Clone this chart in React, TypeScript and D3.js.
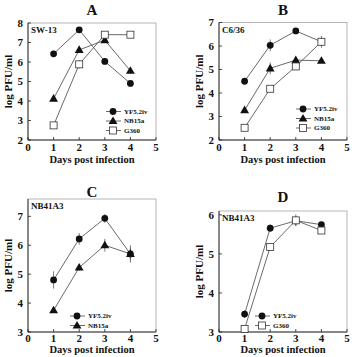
import React from "react";
import { scaleLinear, line, symbol, symbolTriangle } from "d3";

// days post infection
const days = [1, 2, 3, 4];

// panel A: SW-13
const swYF = [6.42, 7.65, 6.03, 4.9];
const swYFErr = [0.08, 0.08, 0.15, 0.08];
const swNB = [4.12, 6.62, 7.12, 5.55];
const swNBErr = [0.12, 0.08, 0.12, 0.15];
const swG = [2.75, 5.88, 7.4, 7.4];
const swGErr = [0.08, 0.22, 0.1, 0.05];

// panel B: C6/36
const c6YF = [4.5, 6.03, 6.64, 6.18];
const c6YFErr = [0.1, 0.25, 0.12, 0.25];
const c6NB = [3.27, 5.05, 5.4, 5.37];
const c6NBErr = [0.08, 0.25, 0.15, 0.05];
const c6G = [2.52, 4.18, 5.13, 6.18];
const c6GErr = [0.1, 0.1, 0.15, 0.1];

// panel C: NB41A3
const nbYF = [4.8, 6.22, 6.93, 5.7];
const nbYFErr = [0.3, 0.2, 0.15, 0.3];
const nbNB = [3.75, 5.23, 6.0, 5.7];
const nbNBErr = [0.05, 0.12, 0.22, 0.2];

// panel D: NB41A3
const nb2YF = [3.46, 5.66, 5.85, 5.75];
const nb2YFErr = [0.1, 0.1, 0.12, 0.05];
const nb2G = [3.08, 5.18, 5.86, 5.6];
const nb2GErr = [0.05, 0.05, 0.15, 0.05];

const xTicks = [0, 1, 2, 3, 4, 5];
const ticksA = [2, 3, 4, 5, 6, 7, 8];
const ticksB = [2, 3, 4, 5, 6, 7];
const ticksC = [3, 4, 5, 6, 7];
const ticksD = [3, 4, 5, 6];

type Series = { name: string; mark: "circle" | "triangle" | "square"; values: number[]; err: number[] };

type PanelProps = {
  letter: string;
  cell: string;
  left: number;
  right: number;
  top: number;
  bottom: number;
  yDomain: [number, number];
  yTicks: number[];
  series: Series[];
  legendX: number;
  legendY: number;
  titleY: number;
  tickGap: number;
  axisTitleGap: number;
};

const FONT = "'Liberation Serif', 'Times New Roman', serif";
const tri = symbol().type(symbolTriangle).size(34);

function Marker({ kind, x, y }: { kind: string; x: number; y: number }) {
  if (kind === "circle") return <circle cx={x} cy={y} r={3.4} fill="#111" />;
  if (kind === "triangle") return <path d={tri() || ""} transform={`translate(${x},${y + 0.5})`} fill="#111" />;
  return <rect x={x - 3.5} y={y - 3.5} width={7} height={7} fill="#fff" stroke="#333" strokeWidth={0.8} />;
}

function Panel(p: PanelProps) {
  const x = scaleLinear().domain([0, 5]).range([p.left, p.right]);
  const y = scaleLinear()
    .domain(p.yDomain)
    .range([p.bottom, p.top]);
  const top = p.top;
  const path = line<number>()
    .x((_, i) => x(days[i]))
    .y((v) => y(v));
  const cx = (p.left + p.right) / 2;

  return (
    <g fontFamily={FONT} fontWeight="bold" fill="#111">
      <text x={cx} y={p.titleY} textAnchor="middle" fontSize={15}>
        {p.letter}
      </text>
      <rect x={p.left} y={top} width={p.right - p.left} height={p.bottom - top} fill="none" stroke="#999" strokeWidth={0.7} />
      <line x1={p.left} x2={p.left} y1={top} y2={p.bottom} stroke="#222" strokeWidth={0.9} />
      <line x1={p.left} x2={p.right} y1={p.bottom} y2={p.bottom} stroke="#222" strokeWidth={0.9} />
      {p.yTicks.map((t) => (
        <g key={t}>
          <line x1={p.left} x2={p.left + 3} y1={y(t)} y2={y(t)} stroke="#222" strokeWidth={0.8} />
          <text x={p.left - 5} y={y(t)} dy="0.35em" textAnchor="end" fontSize={11}>
            {t}
          </text>
        </g>
      ))}
      {xTicks.map((t) => (
        <g key={t}>
          <line x1={x(t)} x2={x(t)} y1={p.bottom} y2={p.bottom - 3} stroke="#222" strokeWidth={0.8} />
          <text x={x(t)} y={p.bottom + p.tickGap} textAnchor="middle" fontSize={11}>
            {t}
          </text>
        </g>
      ))}
      <text x={cx} y={p.bottom + p.axisTitleGap} textAnchor="middle" fontSize={10.5}>
        Days post infection
      </text>
      <text
        transform={`translate(${p.left - 16},${(top + p.bottom) / 2}) rotate(-90)`}
        textAnchor="middle"
        fontSize={11}
      >
        log PFU/ml
      </text>
      <text x={p.left + 3} y={top + 10} fontSize={9}>
        {p.cell}
      </text>
      {p.series.map((s) => (
        <g key={s.name}>
          <path d={path(s.values) || ""} fill="none" stroke="#444" strokeWidth={0.8} />
          {s.values.map((v, i) => (
            <line
              key={i}
              x1={x(days[i])}
              x2={x(days[i])}
              y1={y(v - s.err[i])}
              y2={y(v + s.err[i])}
              stroke="#555"
              strokeWidth={0.8}
            />
          ))}
        </g>
      ))}
      {p.series.map((s) => (
        <g key={s.name + "m"}>
          {s.values.map((v, i) => (
            <Marker key={i} kind={s.mark} x={x(days[i])} y={y(v)} />
          ))}
        </g>
      ))}
      {p.series.map((s, i) => {
        const ly = p.legendY + i * 9.5;
        return (
          <g key={s.name + "l"}>
            <line x1={p.legendX - 7} x2={p.legendX + 8} y1={ly} y2={ly} stroke="#444" strokeWidth={0.8} />
            <Marker kind={s.mark} x={p.legendX} y={ly} />
            <text x={p.legendX + 11} y={ly} dy="0.35em" fontSize={7}>
              {s.name}
            </text>
          </g>
        );
      })}
    </g>
  );
}

export default function App() {
  return (
    <svg
      width={354}
      height={357}
      style={{ position: "absolute", left: 0, top: 0, background: "#fff" }}
    >
      <Panel
        letter="A"
        cell="SW-13"
        left={28}
        right={156}
        top={23}
        bottom={140}
        yDomain={[2, 8]}
        yTicks={ticksA}
        titleY={15}
        tickGap={11}
        axisTitleGap={23}
        legendX={113}
        legendY={111.5}
        series={[
          { name: "YF5.2iv", mark: "circle", values: swYF, err: swYFErr },
          { name: "NB15a", mark: "triangle", values: swNB, err: swNBErr },
          { name: "G360", mark: "square", values: swG, err: swGErr },
        ]}
      />
      <Panel
        letter="B"
        cell="C6/36"
        left={219}
        right={347}
        top={22.5}
        bottom={140}
        yDomain={[2, 7]}
        yTicks={ticksB}
        titleY={15}
        tickGap={11}
        axisTitleGap={23}
        legendX={303}
        legendY={109}
        series={[
          { name: "YF5.2iv", mark: "circle", values: c6YF, err: c6YFErr },
          { name: "NB15a", mark: "triangle", values: c6NB, err: c6NBErr },
          { name: "G360", mark: "square", values: c6G, err: c6GErr },
        ]}
      />
      <Panel
        letter="C"
        cell="NB41A3"
        left={28}
        right={156}
        top={199}
        bottom={332}
        yDomain={[3, 7.6]}
        yTicks={ticksC}
        titleY={197}
        tickGap={10}
        axisTitleGap={20.5}
        legendX={77}
        legendY={316}
        series={[
          { name: "YF5.2iv", mark: "circle", values: nbYF, err: nbYFErr },
          { name: "NB15a", mark: "triangle", values: nbNB, err: nbNBErr },
        ]}
      />
      <Panel
        letter="D"
        cell="NB41A3"
        left={219}
        right={347}
        top={211}
        bottom={332}
        yDomain={[3, 6.1]}
        yTicks={ticksD}
        titleY={202}
        tickGap={10}
        axisTitleGap={20.5}
        legendX={262}
        legendY={316}
        series={[
          { name: "YF5.2iv", mark: "circle", values: nb2YF, err: nb2YFErr },
          { name: "G360", mark: "square", values: nb2G, err: nb2GErr },
        ]}
      />
    </svg>
  );
}
